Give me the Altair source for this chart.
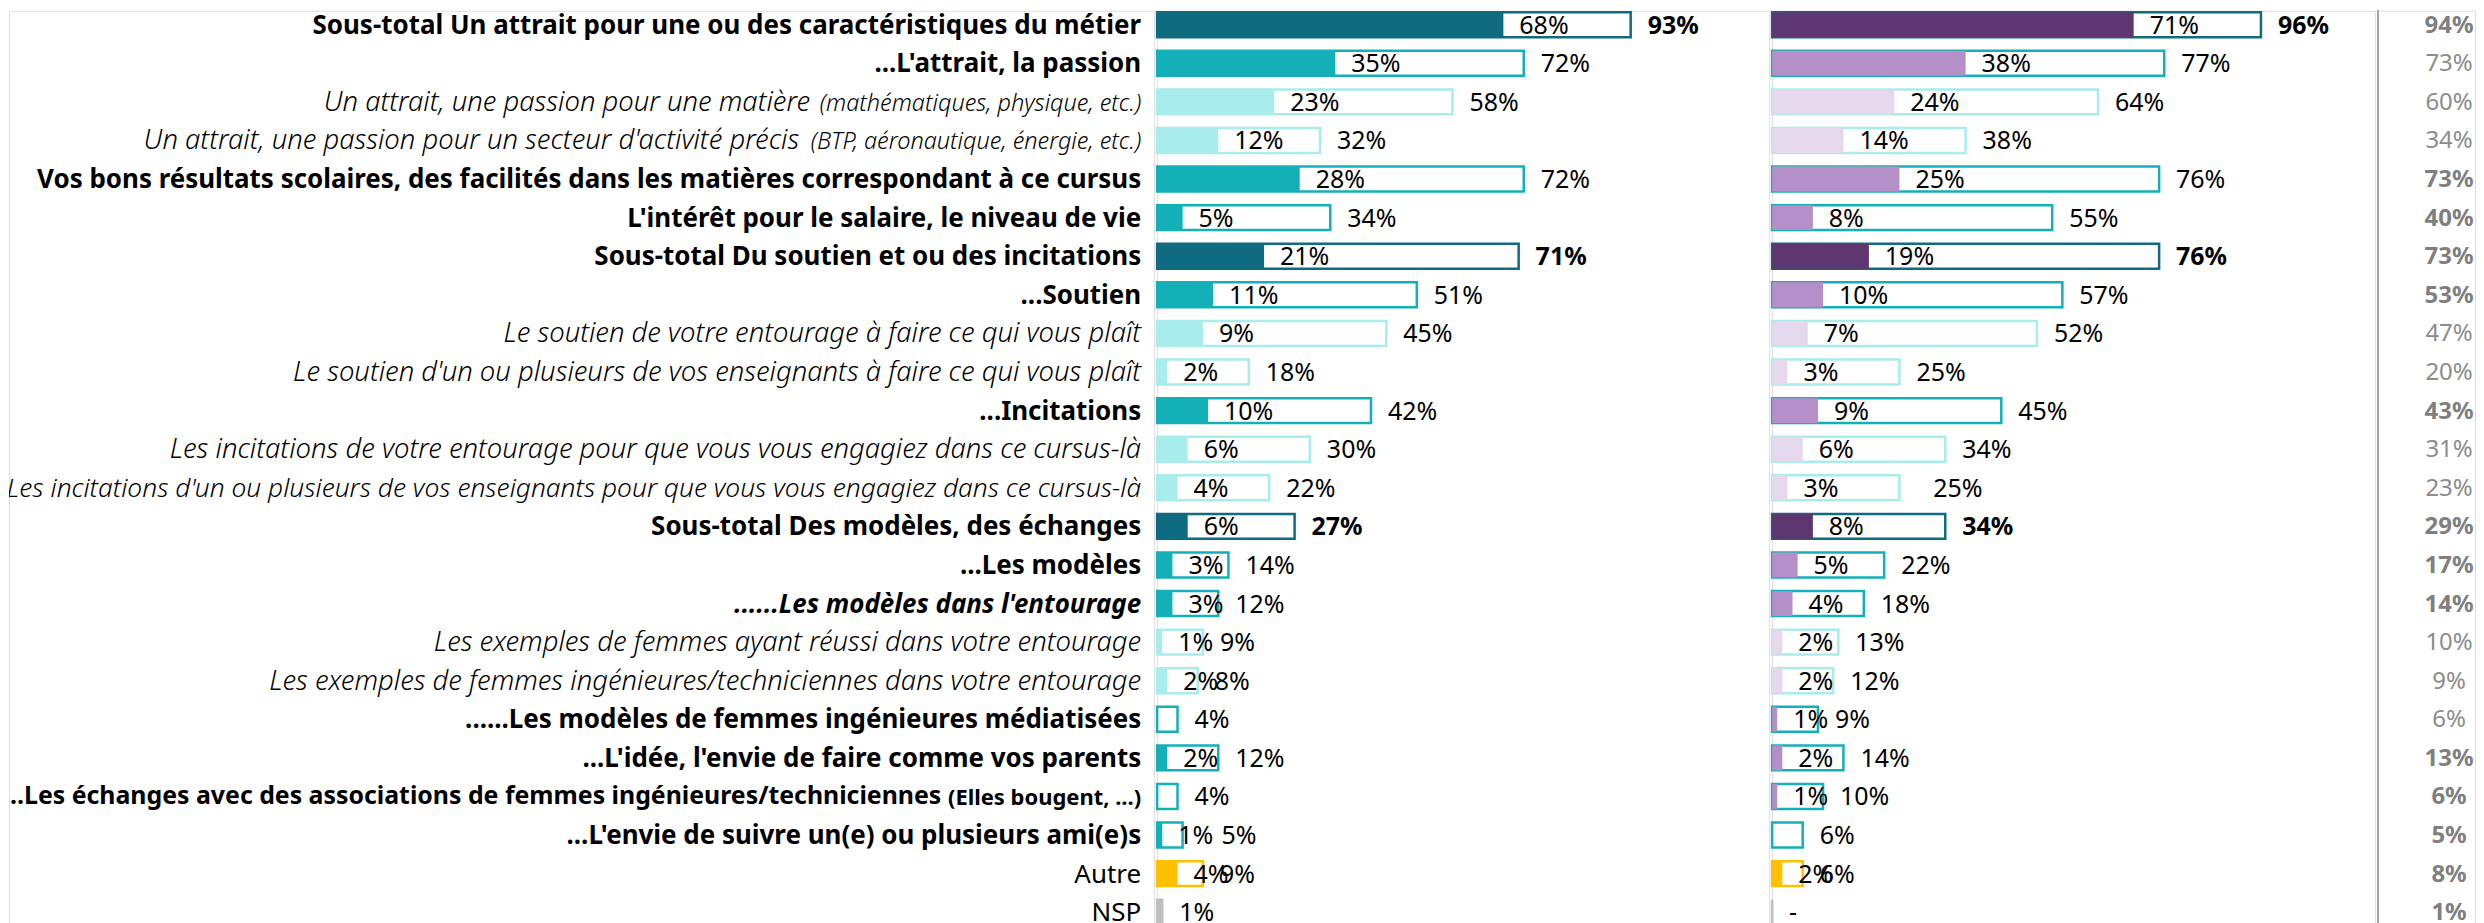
import altair as alt
import pandas as pd

labels = [
    "Sous-total Un attrait pour une ou des caractéristiques du métier",
    "...L'attrait, la passion",
    "Un attrait, une passion pour une matière",
    "Un attrait, une passion pour un secteur d'activité précis",
    "Vos bons résultats scolaires, des facilités dans les matières correspondant à ce cursus",
    "L'intérêt pour le salaire, le niveau de vie",
    "Sous-total Du soutien et ou des incitations",
    "...Soutien",
    "Le soutien de votre entourage à faire ce qui vous plaît",
    "Le soutien d'un ou plusieurs de vos enseignants à faire ce qui vous plaît",
    "...Incitations",
    "Les incitations de votre entourage pour que vous vous engagiez dans ce cursus-là",
    "Les incitations d'un ou plusieurs de vos enseignants pour que vous vous engagiez dans ce cursus-là",
    "Sous-total Des modèles, des échanges",
    "...Les modèles",
    "......Les modèles dans l'entourage",
    "Les exemples de femmes ayant réussi dans votre entourage",
    "Les exemples de femmes ingénieures/techniciennes dans votre entourage",
    "......Les modèles de femmes ingénieures médiatisées",
    "...L'idée, l'envie de faire comme vos parents",
    "...Les échanges avec des associations de femmes ingénieures/techniciennes",
    "...L'envie de suivre un(e) ou plusieurs ami(e)s",
    "Autre",
    "NSP",
]
# smaller trailing notes in the label text
label_notes = ["", "", "(mathématiques, physique, etc.)", "(BTP, aéronautique, énergie, etc.)",
               "", "", "", "", "", "", "", "", "", "", "", "", "", "", "", "",
               "(Elles bougent, ...)", "", "", ""]
# b = bold, bs = bold smaller (long line), bi = bold italic, i = italic, is = italic smaller, n = normal
styles = ["b", "b", "i", "i", "b", "b", "b", "b", "i", "i", "b", "i", "is", "b", "b", "bi",
          "i", "i", "b", "b", "bs", "b", "n", "n"]
levels = ["dark", "mid", "light", "light", "mid", "mid", "dark", "mid", "light", "light", "mid",
          "light", "light", "dark", "mid", "mid", "light", "light", "mid", "mid", "mid", "mid",
          "autre", "nsp"]

left_first = [68, 35, 23, 12, 28, 5, 21, 11, 9, 2, 10, 6, 4, 6, 3, 3, 1, 2, 0, 2, 0, 1, 4, 1]
left_total = [93, 72, 58, 32, 72, 34, 71, 51, 45, 18, 42, 30, 22, 27, 14, 12, 9, 8, 4, 12, 4, 5, 9, 1]
left_first_lbl = ["68%", "35%", "23%", "12%", "28%", "5%", "21%", "11%", "9%", "2%", "10%", "6%",
                  "4%", "6%", "3%", "3%", "1%", "2%", "", "2%", "", "1%", "4%", ""]
left_total_lbl = ["93%", "72%", "58%", "32%", "72%", "34%", "71%", "51%", "45%", "18%", "42%",
                  "30%", "22%", "27%", "14%", "12%", "9%", "8%", "4%", "12%", "4%", "5%", "9%", "1%"]

right_first = [71, 38, 24, 14, 25, 8, 19, 10, 7, 3, 9, 6, 3, 8, 5, 4, 2, 2, 1, 2, 1, 0, 2, 0]
right_total = [96, 77, 64, 38, 76, 55, 76, 57, 52, 25, 45, 34, 25, 34, 22, 18, 13, 12, 9, 14, 10, 6, 6, 0]
right_first_lbl = ["71%", "38%", "24%", "14%", "25%", "8%", "19%", "10%", "7%", "3%", "9%", "6%",
                   "3%", "8%", "5%", "4%", "2%", "2%", "1%", "2%", "1%", "", "2%", ""]
right_total_lbl = ["96%", "77%", "64%", "38%", "76%", "55%", "76%", "57%", "52%", "25%", "45%",
                   "34%", "25%", "34%", "22%", "18%", "13%", "12%", "9%", "14%", "10%", "6%", "6%", "-"]

# extra label nudges (in % units) where the original moved a total label aside
left_total_nudge = [0] * 21 + [4.3, 0, 0]
right_total_nudge = [0] * 12 + [3.3] + [0] * 11

overall = [94, 73, 60, 34, 73, 40, 73, 53, 47, 20, 43, 31, 23, 29, 17, 14, 10, 9, 6, 13, 6, 5, 8, 1]
overall_bold = [1, 0, 0, 0, 1, 1, 1, 1, 0, 0, 1, 0, 0, 1, 1, 1, 0, 0, 0, 1, 1, 1, 1, 1]

level_dom = ["dark", "mid", "light", "autre", "nsp"]
left_colors = ["#0F6B80", "#14B0B8", "#A8EDEC", "#FFC000", "#BFBFBF"]
right_colors = ["#5E3670", "#B48FC8", "#E6D8EC", "#FFC000", "#B48FC8"]

FONT = "Noto Sans"
LAB = 26
ITAL = 27.5
NUM = 25
NOTE_I = 23.5
NOTE_B = 22

# approximate advance widths (em) used only to place the smaller trailing note
_W = {" ": .26, "(": .296, ")": .296, ",": .25, ".": .266, "a": .556, "b": .613, "c": .48,
      "d": .613, "e": .561, "f": .336, "g": .546, "h": .614, "i": .258, "j": .258, "k": .529,
      "l": .258, "m": .933, "n": .614, "o": .603, "p": .613, "q": .613, "r": .409, "s": .477,
      "t": .352, "u": .614, "v": .5, "w": .772, "x": .521, "y": .5, "z": .469, "é": .561,
      "B": .633, "E": .556, "P": .604, "T": .556}


def note_width(s, bold):
    em = sum(_W.get(ch, .55) for ch in s)
    return em * NOTE_B * 1.08 if bold else em * NOTE_I * 0.93


LABEL_RIGHT = 1134
main_x = []
for note, st in zip(label_notes, styles):
    if note:
        main_x.append(LABEL_RIGHT - note_width(note, st.startswith("b")) - 6)
    else:
        main_x.append(LABEL_RIGHT)

# labels too long for the space on the left are cut at the page edge
overflow = [1 if i in (12, 20) else 0 for i in range(len(labels))]

df = pd.DataFrame(dict(
    row=list(range(len(labels))), label=labels, note=label_notes, mx=main_x, ovf=overflow,
    style=styles, level=levels,
    lf=left_first, lt=left_total, lfl=left_first_lbl, ltl=left_total_lbl,
    rf=right_first, rt=right_total, rfl=right_first_lbl, rtl=right_total_lbl,
    ln=left_total_nudge, rn=right_total_nudge,
    ov=[f"{v}%" for v in overall], ovb=overall_bold,
))

H = 915
STEP = 38.65
ydom = [-14 / STEP, (H - 14) / STEP]


def yq(field):
    return alt.Y(field, type="quantitative",
                 scale=alt.Scale(domain=ydom, reverse=True, nice=False, zero=False), axis=None)


W_A = 1147
base = alt.Chart(df)
pix = alt.Scale(domain=[0, W_A], range=[0, W_A], nice=False, zero=False)
lab_layers = []
for st, weight, fstyle, size, nsize in [
        ("b", "bold", "normal", LAB, NOTE_B), ("bs", "bold", "normal", 24.9, NOTE_B),
        ("bi", "bold", "italic", LAB, NOTE_B), ("i", 300, "italic", ITAL, NOTE_I),
        ("is", 300, "italic", 26.4, NOTE_I), ("n", "normal", "normal", LAB, NOTE_B)]:
    for ov in (0, 1):
        lab_layers.append(
            base.transform_filter(f"datum.style == '{st}' && datum.ovf == {ov}").mark_text(
                align="right", baseline="middle", font=FONT, fontSize=size, dy=1,
                fontWeight=weight, fontStyle=fstyle, color="#000000", clip=bool(ov)
            ).encode(x=alt.X("mx:Q", scale=pix, axis=None), y=yq("row"), text="label:N")
        )
    lab_layers.append(
        base.transform_filter(f"datum.style == '{st}' && datum.note != ''").mark_text(
            align="right", baseline="middle", font=FONT, fontSize=nsize, dy=2,
            fontWeight=weight, fontStyle=fstyle, color="#000000"
        ).encode(x=alt.value(LABEL_RIGHT), y=yq("row"), text="note:N")
    )
label_panel = alt.layer(*lab_layers).properties(width=W_A, height=H)


def bar_panel(f, t, fl, tl, nudge, colors, width, dom):
    xs = alt.Scale(domain=[0, dom], nice=False, zero=True)
    b = base.transform_calculate(y0="datum.row - 0.323", y1="datum.row + 0.323", zero="0",
                                 tpos=f"datum.{t} + datum.{nudge}")
    cscale = alt.Scale(domain=level_dom, range=colors)
    outline = b.mark_rect(fill="white", strokeWidth=2.5).encode(
        x=alt.X("zero:Q", scale=xs, axis=None), x2=f"{t}:Q",
        y=yq("y0"), y2="y1:Q",
        stroke=alt.Stroke("level:N", scale=cscale, legend=None),
    )
    fill = b.mark_rect().encode(
        x=alt.X("zero:Q", scale=xs, axis=None), x2=f"{f}:Q",
        y=yq("y0"), y2="y1:Q",
        color=alt.Color("level:N", scale=cscale, legend=None),
    )
    first_txt = b.mark_text(align="left", baseline="middle", dx=16, dy=1, font=FONT,
                            fontSize=NUM, color="#000000").encode(
        x=alt.X(f"{f}:Q", scale=xs, axis=None), y=yq("row"), text=f"{fl}:N")
    tot_norm = b.transform_filter("datum.level != 'dark'").mark_text(
        align="left", baseline="middle", dx=17, dy=1, font=FONT, fontSize=NUM,
        color="#000000").encode(
        x=alt.X("tpos:Q", scale=xs, axis=None), y=yq("row"), text=f"{tl}:N")
    tot_bold = b.transform_filter("datum.level == 'dark'").mark_text(
        align="left", baseline="middle", dx=17, dy=1, font=FONT, fontSize=NUM, fontWeight="bold",
        color="#000000").encode(
        x=alt.X("tpos:Q", scale=xs, axis=None), y=yq("row"), text=f"{tl}:N")
    return alt.layer(outline, fill, first_txt, tot_norm, tot_bold).resolve_scale(
        color="independent").properties(width=width, height=H)


left_panel = bar_panel("lf", "lt", "lfl", "ltl", "ln", left_colors, 613, 613 / 5.1)
right_panel = bar_panel("rf", "rt", "rfl", "rtl", "rn", right_colors, 604, 604 / 5.1)

W_D = 97
sep = base.mark_rule(color="#A6A6A6", strokeWidth=1.5).encode(
    x=alt.value(0), y=alt.value(0), y2=alt.value(H))
ov_bold = base.transform_filter("datum.ovb == 1").mark_text(
    align="center", baseline="middle", font=FONT, fontSize=24, fontWeight="bold", dy=1,
    color="#7F7F7F").encode(x=alt.value(71), y=yq("row"), text="ov:N")
ov_norm = base.transform_filter("datum.ovb == 0").mark_text(
    align="center", baseline="middle", font=FONT, fontSize=24, dy=1,
    color="#8C8C8C").encode(x=alt.value(71), y=yq("row"), text="ov:N")
total_panel = alt.layer(sep, ov_bold, ov_norm).properties(width=W_D, height=H)

chart = alt.hconcat(label_panel, left_panel, right_panel, total_panel, spacing=0).properties(
    padding=0
).configure_view(stroke=None).configure(background="white")

chart.save("out.html", embed_options={"renderer": "svg", "actions": False})
